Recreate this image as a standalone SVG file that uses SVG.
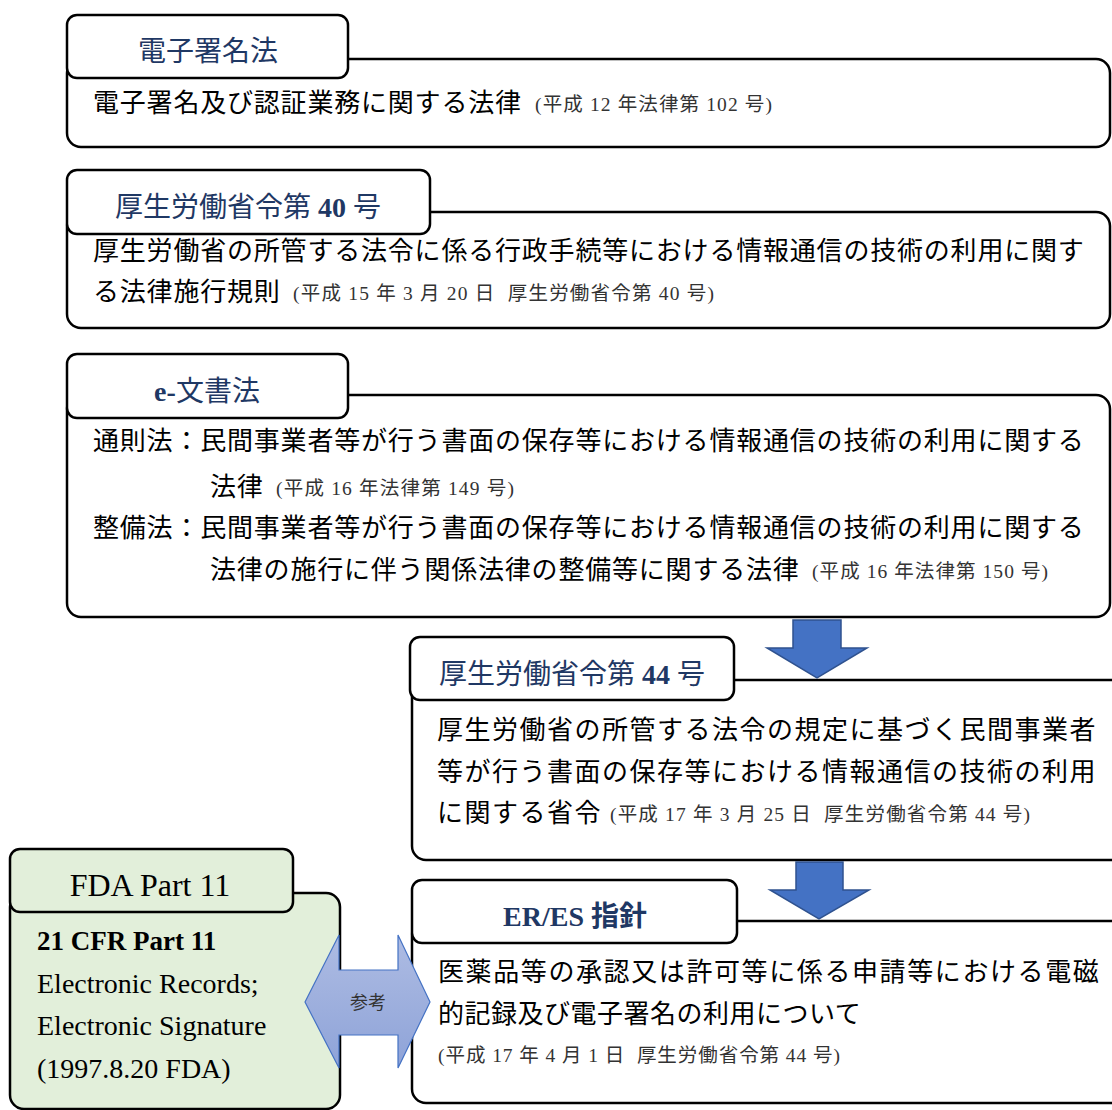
<svg xmlns="http://www.w3.org/2000/svg" width="1112" height="1110" viewBox="0 0 1112 1110">
<style>
.box{fill:#fff;stroke:#000;stroke-width:2.5}
.gbox{fill:#E2EFDA;stroke:#000;stroke-width:2.5}
.title{fill:#1F3864;font-family:"Liberation Serif","Noto Sans CJK JP",serif;font-size:28px;text-anchor:middle}
.body{fill:#000;font-family:"Noto Sans CJK JP",sans-serif;font-size:26px;letter-spacing:0.8px}
.small{fill:#333;font-family:"Liberation Serif","Noto Sans CJK JP",serif;font-size:19.5px}
.en{fill:#000;font-family:"Liberation Serif",serif;font-size:28px}
.down{fill:#4472C4;stroke:#2F528F;stroke-width:1.5}
</style>
<defs>
<linearGradient id="gb" x1="0" y1="0" x2="0" y2="1">
<stop offset="0" stop-color="#AEBCE3"/>
<stop offset="1" stop-color="#8EA3D8"/>
</linearGradient>
</defs>
<g id="node-denshi">
<rect class="box" x="67" y="59" width="1043" height="88" rx="14"/>
<rect class="box" x="67" y="15" width="281" height="63" rx="10"/>
<text class="title" x="208" y="61">電子署名法</text>
<text class="body" x="93" y="112">電子署名及び認証業務に関する法律</text>
<text class="small" x="535" y="111" textLength="237" lengthAdjust="spacing">(平成 12 年法律第 102 号)</text>
</g>
<g id="node-mhlw40">
<rect class="box" x="67" y="212" width="1043" height="116" rx="14"/>
<rect class="box" x="67" y="170" width="363" height="64" rx="10"/>
<text class="title" x="248" y="217">厚生労働省令第 <tspan font-weight="bold">40</tspan> 号</text>
<text class="body" x="93" y="260">厚生労働省の所管する法令に係る行政手続等における情報通信の技術の利用に関す</text>
<text class="body" x="93" y="301">る法律施行規則</text>
<text class="small" x="293" y="300" textLength="421" lengthAdjust="spacing">(平成 15 年 3 月 20 日&#160; 厚生労働省令第 40 号)</text>
</g>
<g id="node-ebunsho">
<rect class="box" x="67" y="395" width="1043" height="222" rx="14"/>
<rect class="box" x="67" y="354" width="281" height="64" rx="10"/>
<text class="title" x="207" y="401"><tspan font-weight="bold">e-</tspan>文書法</text>
<text class="body" x="93" y="450">通則法：民間事業者等が行う書面の保存等における情報通信の技術の利用に関する</text>
<text class="body" x="210" y="496">法律</text>
<text class="small" x="276" y="495" textLength="238" lengthAdjust="spacing">(平成 16 年法律第 149 号)</text>
<text class="body" x="93" y="537">整備法：民間事業者等が行う書面の保存等における情報通信の技術の利用に関する</text>
<text class="body" x="210" y="579">法律の施行に伴う関係法律の整備等に関する法律</text>
<text class="small" x="812" y="578" textLength="236" lengthAdjust="spacing">(平成 16 年法律第 150 号)</text>
</g>
<g id="node-mhlw44">
<rect class="box" x="412" y="680" width="720" height="180" rx="14"/>
<rect class="box" x="410" y="637" width="324" height="63" rx="10"/>
<text class="title" x="572" y="684">厚生労働省令第 <tspan font-weight="bold">44</tspan> 号</text>
<text class="body" x="437" y="739" style="letter-spacing:1.5px">厚生労働省の所管する法令の規定に基づく民間事業者</text>
<text class="body" x="437" y="781" style="letter-spacing:1.5px">等が行う書面の保存等における情報通信の技術の利用</text>
<text class="body" x="437" y="822" style="letter-spacing:1.5px">に関する省令</text>
<text class="small" x="610" y="821" textLength="420" lengthAdjust="spacing">(平成 17 年 3 月 25 日&#160; 厚生労働省令第 44 号)</text>
</g>
<g id="node-eres">
<rect class="box" x="412" y="921" width="720" height="182" rx="14"/>
<rect class="box" x="412" y="880" width="325" height="63" rx="10"/>
<text class="title" x="575" y="926" font-weight="bold">ER/ES 指針</text>
<text class="body" x="438" y="981" style="letter-spacing:1.6px">医薬品等の承認又は許可等に係る申請等における電磁</text>
<text class="body" x="438" y="1023" style="letter-spacing:0.5px">的記録及び電子署名の利用について</text>
<text class="small" x="438" y="1062" textLength="402" lengthAdjust="spacing">(平成 17 年 4 月 1 日&#160; 厚生労働省令第 44 号)</text>
</g>
<g id="node-fda">
<rect class="gbox" x="10" y="893" width="330" height="216" rx="14"/>
<rect class="gbox" x="10" y="849" width="283" height="63" rx="10"/>
<text x="150" y="896" text-anchor="middle" style="fill:#000;font-family:'Liberation Serif',serif;font-size:32px">FDA Part 11</text>
<text class="en" x="37" y="950" font-weight="bold" style="font-size:27px">21 CFR Part 11</text>
<text class="en" x="37" y="993">Electronic Records;</text>
<text class="en" x="37" y="1035">Electronic Signature</text>
<text class="en" x="37" y="1078">(1997.8.20 FDA)</text>
</g>
<g id="connectors">
<path class="down" d="M793,620 L841,620 L841,648 L867,648 L817,678 L767,648 L793,648 Z"/>
<path class="down" d="M796,862 L843,862 L843,890 L869,890 L819,919 L770,890 L796,890 Z"/>
<path d="M305,1002 L339,935 L339,970 L398,970 L398,935 L430,1002 L398,1068 L398,1035 L339,1035 L339,1068 Z" fill="url(#gb)" stroke="#4472C4" stroke-width="1.2"/>
<text x="368" y="1009" text-anchor="middle" style="fill:#333;font-family:'Noto Sans CJK JP',sans-serif;font-size:18px">参考</text>
</g>
</svg>
